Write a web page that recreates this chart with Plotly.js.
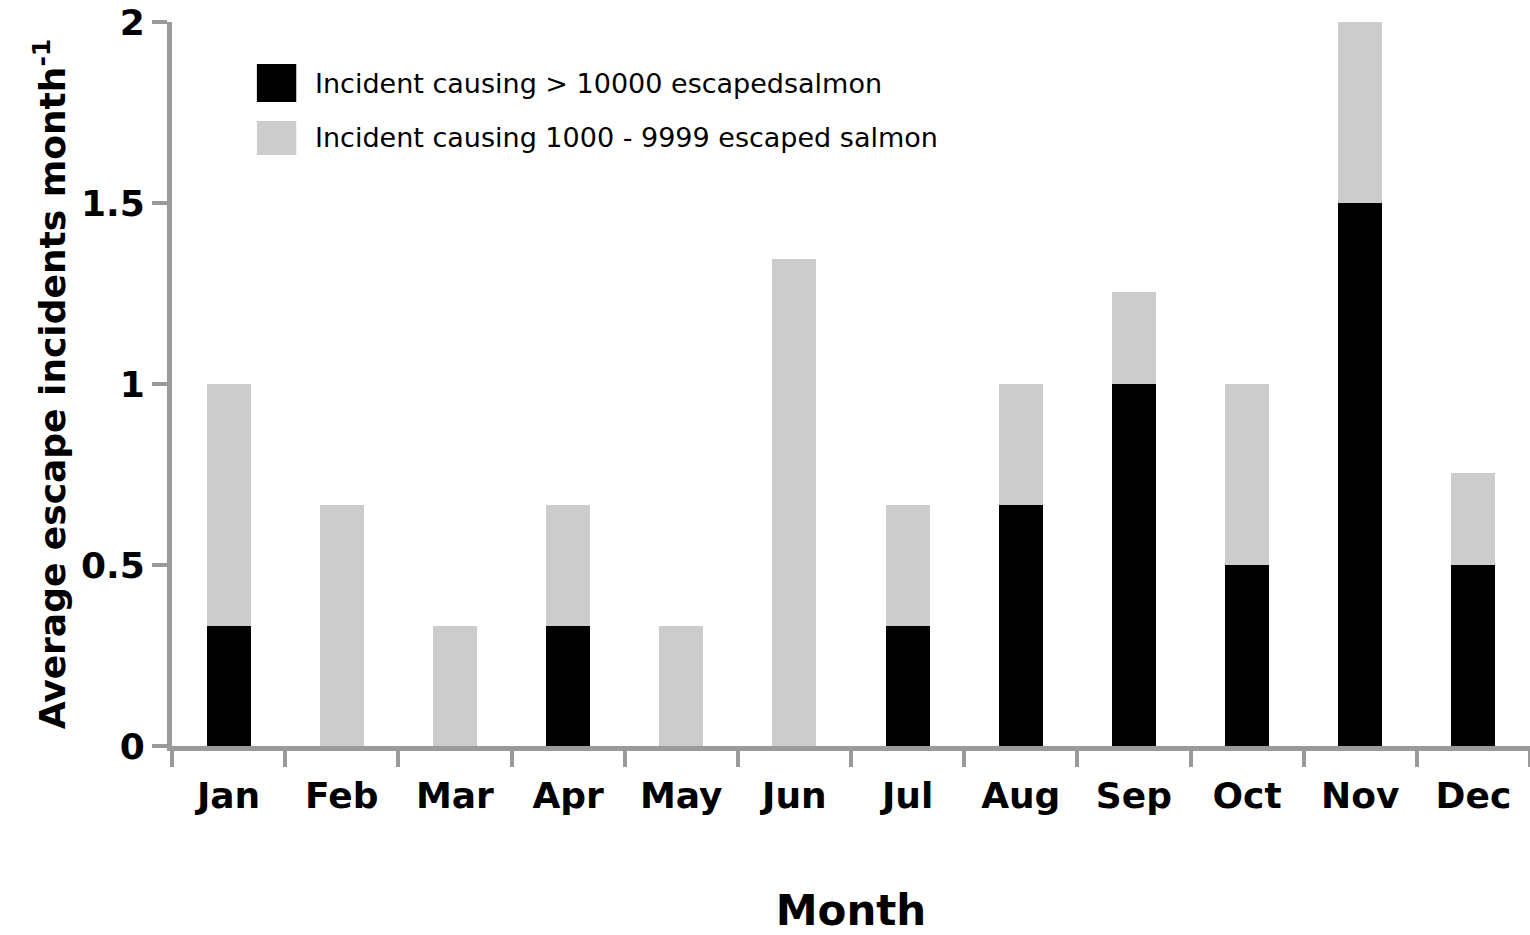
<!DOCTYPE html>
<html>
<head>
<meta charset="utf-8">
<script src="https://cdn.plot.ly/plotly-3.0.1.min.js"></script>
<style>html,body{margin:0;padding:0;background:#fff;}#chart{width:1530px;height:935px;}</style>
</head>
<body>
<div id="chart"></div>
<script>
const months = ["Jan","Feb","Mar","Apr","May","Jun","Jul","Aug","Sep","Oct","Nov","Dec"];
const largeEscapes = [0.333,0,0,0.333,0,0,0.333,0.667,1.0,0.5,1.5,0.5];
const smallEscapes = [0.667,0.667,0.333,0.333,0.333,1.345,0.333,0.333,0.255,0.5,0.5,0.255];
const seriesNames = ["Incident causing > 10000 escapedsalmon","Incident causing 1000 - 9999 escaped salmon"];
const yTicks = [0,0.5,1,1.5,2];
const yTickText = ["0","0.5","1","1.5","2"];

const font = "'DejaVu Sans', Verdana, sans-serif";
const axisGray = "#9a9a9a";

const traces = [
  {type:"bar", x:months, y:largeEscapes, name:seriesNames[0], marker:{color:"#000000"}, width:0.39, showlegend:false, hoverinfo:"y", cliponaxis:false},
  {type:"bar", x:months, y:smallEscapes, name:seriesNames[1], marker:{color:"#cccccc"}, width:0.39, showlegend:false, hoverinfo:"y", cliponaxis:false}
];

const legendColors = ["#000000","#cccccc"];
const legendY = [0.9157, 0.8398];
const legendHalf = [0.0262, 0.0235];
const shapes = [], annotations = [];
seriesNames.forEach((n,i)=>{
  shapes.push({type:"rect", xref:"paper", yref:"paper", x0:0.0625, x1:0.0915, y0:legendY[i]-legendHalf[i], y1:legendY[i]+legendHalf[i], fillcolor:legendColors[i], line:{width:0}});
  annotations.push({xref:"paper", yref:"paper", x:0.104, y:legendY[i], xanchor:"left", yanchor:"middle", showarrow:false, text:n, font:{family:font, size:27, color:"#000"}});
});

const layout = {
  width:1530, height:935,
  margin:{l:172, r:0, t:22, b:189},
  paper_bgcolor:"#fff", plot_bgcolor:"#fff",
  barmode:"stack",
  showlegend:false,
  font:{family:font, color:"#000"},
  xaxis:{
    type:"category", range:[-0.5,11.5],
    showline:true, linecolor:axisGray, linewidth:5,
    ticks:"outside", tickson:"boundaries", ticklen:16, tickwidth:4, tickcolor:axisGray,
    tickfont:{family:font, size:36, color:"#000", weight:"bold"},
    ticklabelstandoff:14,
    showgrid:false, zeroline:false,
    title:{text:"<b>Month</b>", font:{family:font, size:42, color:"#000"}, standoff:84}
  },
  yaxis:{
    range:[0,2.001], tickvals:yTicks, ticktext:yTickText,
    showline:true, linecolor:axisGray, linewidth:5,
    ticks:"outside", ticklen:15, tickwidth:4, tickcolor:axisGray,
    tickfont:{family:font, size:36, color:"#000", weight:"bold"},
    showgrid:false, zeroline:false,
    title:{text:"<b>Average escape incidents month<sup>-1</sup></b>", font:{family:font, size:36, color:"#000"}, standoff:6}
  },
  shapes:shapes, annotations:annotations
};
Plotly.newPlot("chart", traces, layout, {displayModeBar:false, staticPlot:true});
</script>
</body>
</html>
